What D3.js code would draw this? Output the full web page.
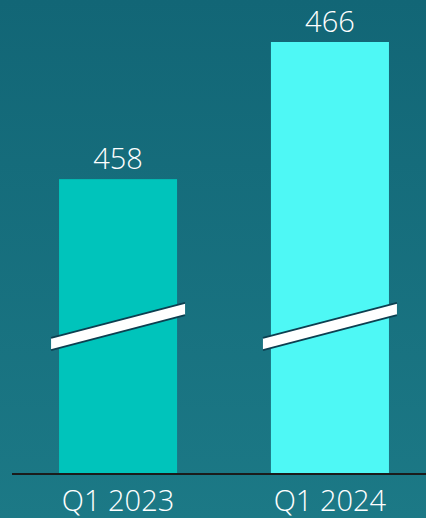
<!DOCTYPE html>
<html><head><meta charset="utf-8">
<script src="https://cdn.jsdelivr.net/npm/d3@7"></script>
<style>html,body{margin:0;padding:0;overflow:hidden;background:#176f7e}</style>
</head><body>
<svg id="chart" width="426" height="518"></svg>
<script>
const categories = ["Q1 2023", "Q1 2024"];
const values = [458, 466];
const barColors = ["#00c4bb", "#4ef8f5"];
const axisStart = 440.8;   // broken axis: baseline value
const breakValue = 449.4;  // where the break marker sits

const W = 426, H = 518;
const svg = d3.select("#chart");
const defs = svg.append("defs");
const g = defs.append("linearGradient").attr("id","bg").attr("x1",0).attr("y1",0).attr("x2",0).attr("y2",1);
g.append("stop").attr("offset","0%").attr("stop-color","#126676");
g.append("stop").attr("offset","100%").attr("stop-color","#1c7986");
svg.append("rect").attr("width",W).attr("height",H).attr("fill","url(#bg)");

const baseY = 474;
const x = d3.scaleBand().domain(categories).range([12, 436]).paddingInner(0.443).paddingOuter(0.222);
const y = d3.scaleLinear().domain([axisStart, 466]).range([baseY, 42]);

const data = categories.map((c,i)=>({c, v: values[i], col: barColors[i]}));

svg.selectAll("rect.bar").data(data).join("rect").attr("class","bar")
  .attr("x", d=>x(d.c)).attr("width", x.bandwidth())
  .attr("y", d=>y(d.v)).attr("height", d=>baseY - y(d.v))
  .attr("fill", d=>d.col);

// break markers
const ext = 8, half = 6.1, slope = 35/134;
data.forEach(d=>{
  const x0 = x(d.c) - ext, x1 = x(d.c) + x.bandwidth() + ext;
  const cx = (x0+x1)/2, cy = y(breakValue);
  const yl = cy + (cx - x0)*slope, yr = cy - (x1 - cx)*slope;
  const gg = svg.append("g");
  gg.append("polygon").attr("points", [[x0,yl-half],[x1,yr-half],[x1,yr+half],[x0,yl+half]].map(p=>p.join(",")).join(" "))
    .attr("fill","#ffffff");
  [-half, half].forEach(o=>{
    gg.append("line").attr("x1",x0).attr("y1",yl+o).attr("x2",x1).attr("y2",yr+o)
      .attr("stroke","#0c3f50").attr("stroke-width",1.8);
  });
});

// value labels
svg.selectAll("text.val").data(data).join("text").attr("class","val")
  .attr("x", d=>x(d.c)+x.bandwidth()/2).attr("y", d=>y(d.v)-10.5)
  .attr("text-anchor","middle").attr("fill","#ffffff")
  .attr("font-family","'Open Sans', sans-serif").attr("font-size",29).attr("font-weight",300)
  .text(d=>d.v);

// axis
const ax = svg.append("g").attr("transform",`translate(0,${baseY})`).call(d3.axisBottom(x).tickSize(0).tickPadding(0));
ax.select(".domain").remove();
svg.append("line").attr("x1",12).attr("x2",426).attr("y1",baseY).attr("y2",baseY).attr("stroke","#1b1b1b").attr("stroke-width",2);
ax.selectAll("text").attr("y", 37).attr("dy", null)
  .attr("fill","#ffffff").attr("font-family","'Open Sans', sans-serif").attr("font-size",29).attr("font-weight",300);
</script>
</body></html>
